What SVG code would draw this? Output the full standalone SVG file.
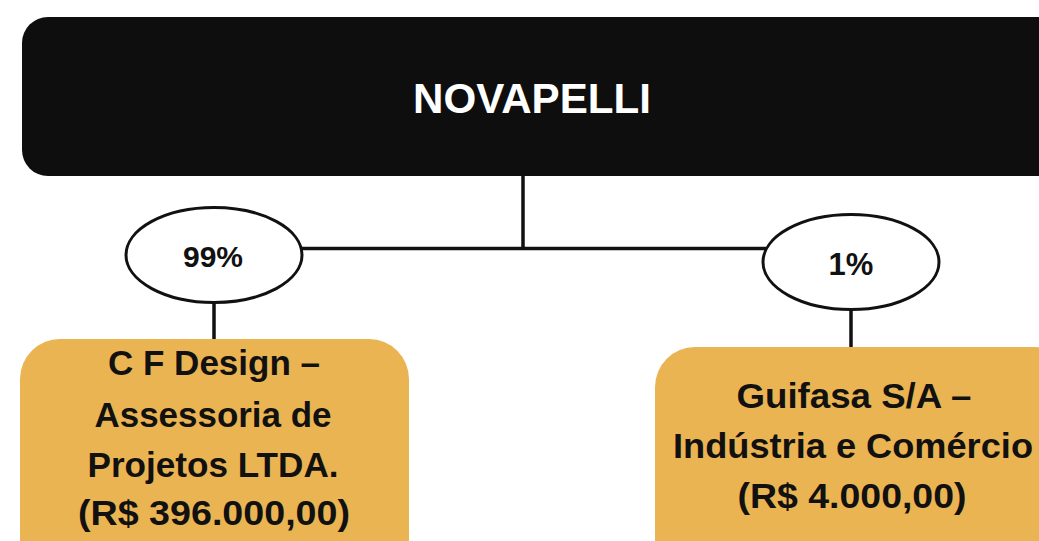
<svg xmlns="http://www.w3.org/2000/svg" width="1039" height="541" viewBox="0 0 1039 541">
<style>
.t{font-family:"Liberation Sans",Arial,sans-serif;font-weight:bold;text-anchor:middle}
.box{fill:#ebb452}
.lbl{fill:#111;font-size:35.5px}
.ell{fill:#fff;stroke:#111;stroke-width:3}
.ln{stroke:#111;stroke-width:3.5;fill:none}
</style>
<rect width="1039" height="541" fill="#fff"/>
<g id="connectors">
<line class="ln" x1="523" y1="176" x2="523" y2="249"/>
<line class="ln" x1="300" y1="248.5" x2="768" y2="248.5"/>
<line class="ln" x1="214" y1="302" x2="214" y2="340"/>
<line class="ln" x1="851" y1="308" x2="851" y2="349"/>
</g>
<g id="novapelli">
<rect x="22" y="17" width="1042" height="159" rx="26" fill="#0e0e0e"/>
<text class="t" x="532" y="113" font-size="43" fill="#fff" textLength="238" lengthAdjust="spacingAndGlyphs">NOVAPELLI</text>
</g>
<g id="p99">
<ellipse class="ell" cx="214" cy="255" rx="88" ry="47.5"/>
<text class="t" x="213" y="267" font-size="30" fill="#111">99%</text>
</g>
<g id="p1">
<ellipse class="ell" cx="851" cy="262" rx="88" ry="47.5"/>
<text class="t" x="851" y="275" font-size="31" fill="#111">1%</text>
</g>
<g id="cfdesign">
<rect class="box" x="20" y="339" width="389" height="240" rx="40"/>
<text class="t lbl" x="214" y="375" textLength="212" lengthAdjust="spacingAndGlyphs">C F Design –</text>
<text class="t lbl" x="213" y="427" textLength="237" lengthAdjust="spacingAndGlyphs">Assessoria de</text>
<text class="t lbl" x="213" y="477" textLength="251" lengthAdjust="spacingAndGlyphs">Projetos LTDA.</text>
<text class="t lbl" x="214" y="525" textLength="272" lengthAdjust="spacingAndGlyphs">(R$ 396.000,00)</text>
</g>
<g id="guifasa">
<rect class="box" x="655" y="347" width="420" height="240" rx="40"/>
<text class="t lbl" x="854" y="408" textLength="235" lengthAdjust="spacingAndGlyphs">Guifasa S/A –</text>
<text class="t lbl" x="853" y="458" textLength="360" lengthAdjust="spacingAndGlyphs">Indústria e Comércio</text>
<text class="t lbl" x="852" y="508" textLength="229" lengthAdjust="spacingAndGlyphs">(R$ 4.000,00)</text>
</g>
</svg>
